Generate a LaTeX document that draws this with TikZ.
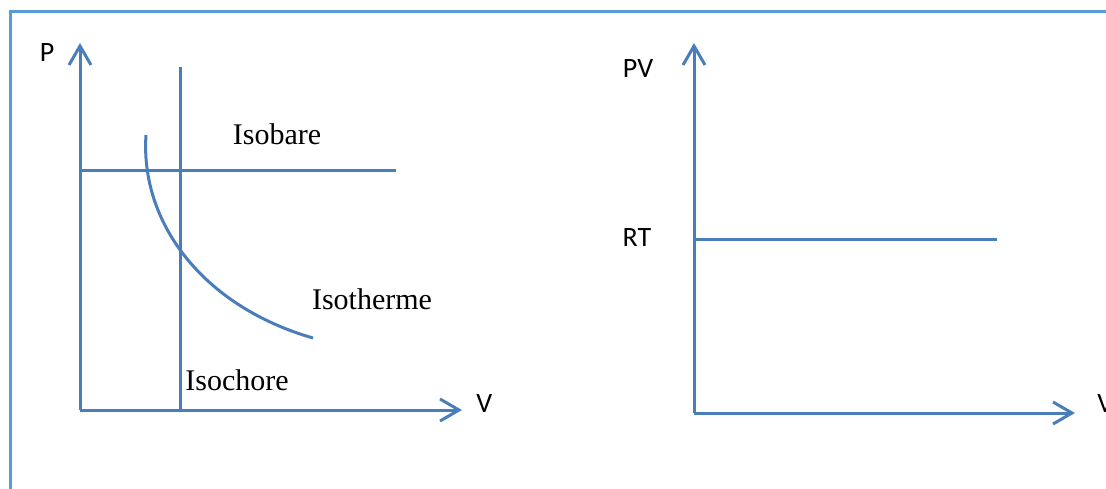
\documentclass[tikz,border=0pt]{standalone}
\usepackage{fontspec}
\setmainfont{Liberation Serif}
\newfontfamily\axisfont{Carlito}
\usetikzlibrary{arrows.meta,positioning}

\definecolor{frameblue}{HTML}{5B9BD5}
\definecolor{lineblue}{HTML}{4A7EBB}
\tikzset{
	axis/.style={lineblue, line width=1.5pt, -{Straight Barb[length=9.5pt,width=11pt]}},
	curve/.style={lineblue, line width=1.5pt},
	axislabel/.style={font=\axisfont\fontsize{14}{16}\selectfont, inner sep=0pt},
	curvelabel/.style={font=\fontsize{15}{18}\selectfont, inner sep=0pt}
}

\begin{document}
\begin{tikzpicture}[x=0.5pt,y=-0.5pt]
	\useasboundingbox (0,0) rectangle (1106,488);
	% frame
	\draw[frameblue, line width=1.5pt] (10,490) -- (10,11) -- (1110,11);
	% P-V diagram
	\coordinate (O1) at (80,410);
	\coordinate (ytop1) at (80,43);
	\coordinate (xend1) at (462,410);
	\coordinate (bar1) at (80,170);
	\coordinate (bar2) at (396,170);
	\coordinate (cho1) at (180,67);
	\coordinate (cho2) at (180,410);
	\coordinate (th1) at (146,135);
	\coordinate (th2) at (313,338);
	\draw[curve] (bar1) -- (bar2);
	\draw[curve] (cho1) -- (cho2);
	\draw[curve] (th1) .. controls (140,222) and (202,306) .. (th2);
	\draw[axis] (O1) -- (ytop1);
	\draw[axis] (O1) -- (xend1);
	\node[axislabel] (lblP) at (47,53) {P};
	\node[axislabel, anchor=west] (lblV1) at (476,404) {V};
	\node[curvelabel] (lblbare) at (277,134) {Isobare};
	\node[curvelabel] (lbltherme) at (372,299) {Isotherme};
	\node[curvelabel] (lblchore) at (237,380) {Isochore};
	% PV-V diagram
	\coordinate (O2) at (694,413);
	\coordinate (ytop2) at (694,43);
	\coordinate (xend2) at (1075,413);
	\coordinate (rt1) at (694,239);
	\coordinate (rt2) at (997,239);
	\draw[curve] (rt1) -- (rt2);
	\draw[axis] (O2) -- (ytop2);
	\draw[axis] (O2) -- (xend2);
	\node[axislabel] (lblPV) at (638,69) {PV};
	\node[axislabel] (lblRT) at (637,238) {RT};
	\node[axislabel, anchor=west] (lblV2) at (1097,404) {V};
\end{tikzpicture}
\end{document}
